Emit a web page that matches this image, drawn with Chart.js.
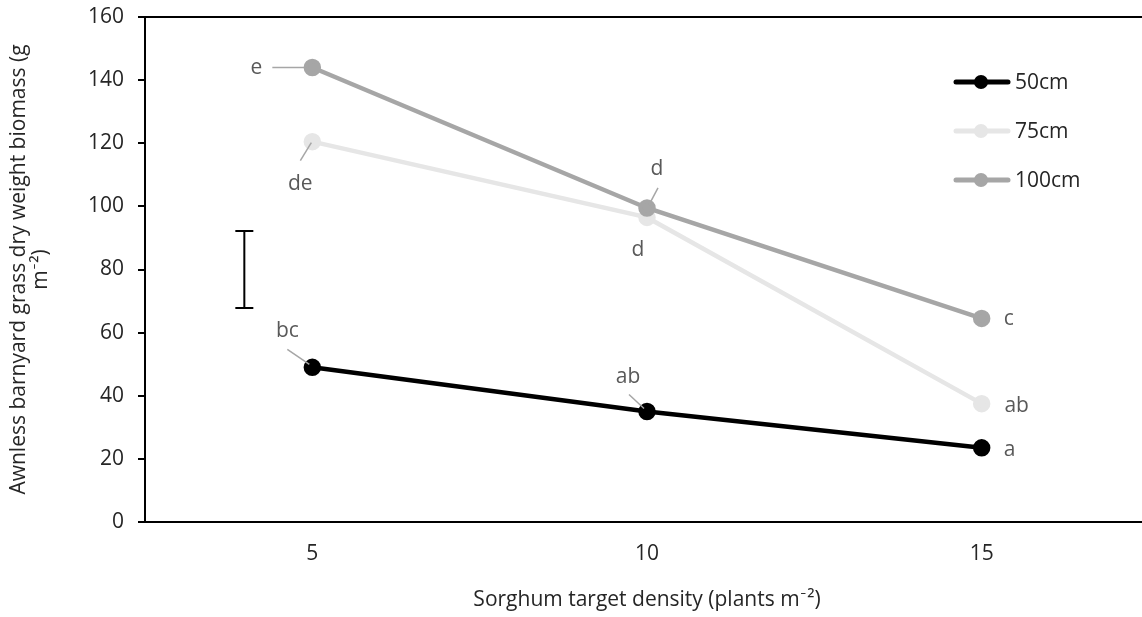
<!DOCTYPE html>
<html>
<head>
<meta charset="utf-8">
<script src="https://cdn.jsdelivr.net/npm/chart.js@4.4.1/dist/chart.umd.min.js"></script>
<style>
  html, body { margin: 0; padding: 0; background: #fff; overflow: hidden; }
  #wrap { width: 1142px; height: 617px; overflow: hidden; }
</style>
</head>
<body>
<div id="wrap"><canvas id="chart" width="1160" height="617"></canvas></div>
<script>
const densities = ['5', '10', '15'];
const biomass50 = [49, 35, 23.5];
const biomass75 = [120.5, 96.5, 37.5];
const biomass100 = [144, 99.5, 64.5];
const letters50 = ['bc', 'ab', 'a'];
const letters75 = ['de', 'd', 'ab'];
const letters100 = ['e', 'd', 'c'];
const lsdCentre = 80;
const lsdValue = 24.4;
const yTicks = [0, 20, 40, 60, 80, 100, 120, 140, 160];

const fontFamily = '"Open Sans", Carlito, Calibri, sans-serif';

// label offsets from the point: text dx, dy and optional leader line
const labelPos = [
    [ {dx: -25, dy: -36, line: [-25, -18, -3, -3]}, {dx: -19, dy: -35, line: [-18, -17, -3, -3]}, {dx: 28, dy: 2} ],
    [ {dx: -12, dy: 42, line: [-12, 19, -1, 1]}, {dx: -9, dy: 33}, {dx: 35, dy: 2} ],
    [ {dx: -56, dy: 1, line: [-40, 0, -6, 0]}, {dx: 10, dy: -39, line: [11, -20, 2, -3]}, {dx: 27, dy: 1} ]
];

const extras = {
    id: 'extras',
    afterDatasetsDraw(chart) {
        const ctx = chart.ctx;
        const x = chart.scales.x, y = chart.scales.y;
        const letterSets = [letters50, letters75, letters100];

        ctx.save();
        // letters
        ctx.font = '21px ' + fontFamily;
        ctx.textAlign = 'center';
        ctx.textBaseline = 'middle';
        chart.data.datasets.forEach(function(ds, i) {
            ds.data.forEach(function(v, j) {
                const px = x.getPixelForValue(j);
                const py = y.getPixelForValue(v);
                const p = labelPos[i][j];
                if (p.line) {
                    ctx.strokeStyle = '#a6a6a6';
                    ctx.lineWidth = 1.5;
                    ctx.beginPath();
                    ctx.moveTo(px + p.line[0], py + p.line[1]);
                    ctx.lineTo(px + p.line[2], py + p.line[3]);
                    ctx.stroke();
                }
                ctx.fillStyle = '#595959';
                ctx.fillText(letterSets[i][j], px + p.dx, py + p.dy);
            });
        });

        // LSD bar
        const bx = x.getPixelForValue(0) - 68;
        const top = y.getPixelForValue(lsdCentre + lsdValue / 2);
        const bot = y.getPixelForValue(lsdCentre - lsdValue / 2);
        ctx.strokeStyle = '#000';
        ctx.lineWidth = 2;
        ctx.beginPath();
        ctx.moveTo(bx, top); ctx.lineTo(bx, bot);
        ctx.moveTo(bx - 9, top); ctx.lineTo(bx + 9, top);
        ctx.moveTo(bx - 9, bot); ctx.lineTo(bx + 9, bot);
        ctx.stroke();

        // legend
        const lx = 954, ly = 82, gap = 49;
        chart.data.datasets.forEach(function(ds, i) {
            const yy = ly + i * gap;
            ctx.strokeStyle = ds.borderColor;
            ctx.lineWidth = 5;
            ctx.lineCap = 'round';
            ctx.beginPath();
            ctx.moveTo(lx + 2, yy); ctx.lineTo(lx + 54, yy);
            ctx.stroke();
            ctx.fillStyle = ds.borderColor;
            ctx.beginPath();
            ctx.arc(lx + 27, yy, 7, 0, Math.PI * 2);
            ctx.fill();
            ctx.fillStyle = '#262626';
            ctx.textAlign = 'left';
            ctx.fillText(ds.label, lx + 61, yy + 1);
        });
        ctx.restore();
    }
};

function series(label, data, color, order) {
    return {
        label: label,
        data: data,
        borderColor: color,
        backgroundColor: color,
        borderWidth: 4.5,
        pointRadius: 6.5,
        pointHoverRadius: 6.5,
        pointBackgroundColor: color,
        pointBorderColor: color,
        tension: 0,
        order: order
    };
}

new Chart(document.getElementById('chart'), {
    type: 'line',
    data: {
        labels: densities,
        datasets: [
            series('50cm', biomass50, '#000000', 2),
            series('75cm', biomass75, '#e6e6e6', 1),
            series('100cm', biomass100, '#a6a6a6', 0)
        ]
    },
    options: {
        responsive: false,
        animation: false,
        layout: { padding: { top: 17, left: 0, right: 0, bottom: 0 } },
        plugins: {
            legend: { display: false },
            tooltip: { enabled: false }
        },
        scales: {
            x: {
                type: 'category',
                offset: true,
                grid: { display: false, drawTicks: false },
                border: { display: true, color: '#000', width: 2 },
                ticks: { color: '#262626', padding: 19, font: { family: fontFamily, size: 21 } },
                title: {
                    display: true,
                    text: 'Sorghum target density (plants m\u207B\u00B2)',
                    color: '#262626',
                    font: { family: fontFamily, size: 21 },
                    padding: { top: 14 }
                },
                afterFit(scale) { scale.height = 95; }
            },
            y: {
                min: 0,
                max: 160,
                afterBuildTicks(scale) { scale.ticks = yTicks.map(v => ({ value: v })); },
                grid: {
                    color: c => c.tick && c.tick.value === 160 ? '#000' : 'rgba(0,0,0,0)',
                    lineWidth: 2,
                    tickColor: '#000',
                    tickLength: 7,
                    drawTicks: true
                },
                border: { display: true, color: '#000', width: 2 },
                ticks: { color: '#262626', padding: 14, font: { family: fontFamily, size: 21 } },
                title: {
                    display: true,
                    text: ['Awnless barnyard grass dry weight biomass (g', 'm\u207B\u00B2)'],
                    color: '#262626',
                    font: { family: fontFamily, size: 21, lineHeight: 1.05 },
                    padding: { top: 8, bottom: 4 }
                },
                afterFit(scale) {
                    scale.width = 145;
                    scale.paddingTop = 0;
                    scale.paddingBottom = 0;
                }
            }
        }
    },
    plugins: [extras]
});
</script>
</body>
</html>
